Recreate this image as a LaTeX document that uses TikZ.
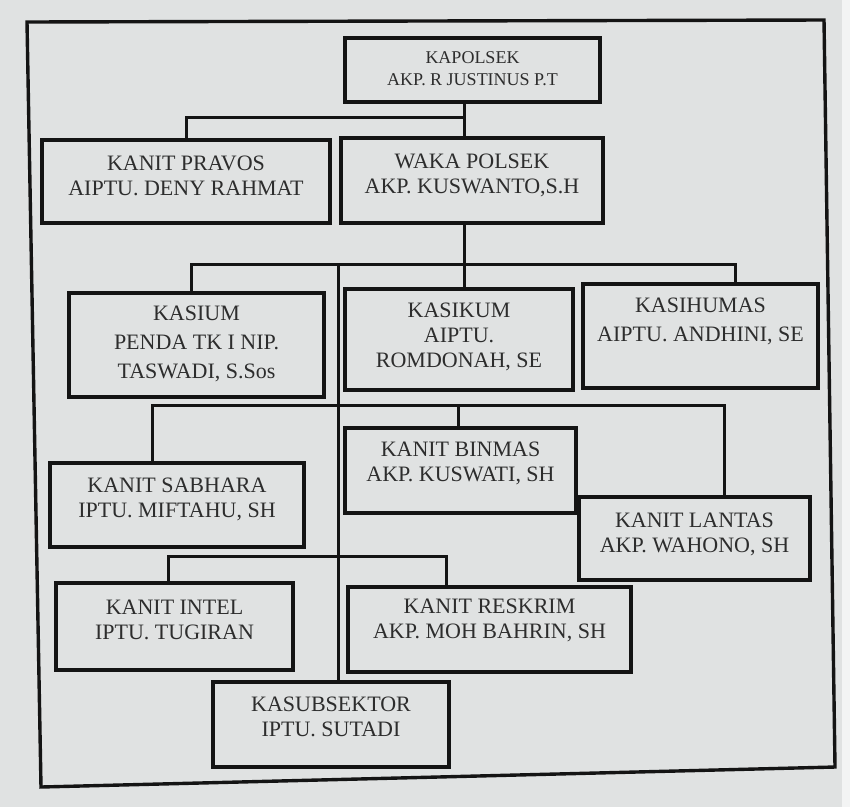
\documentclass[tikz,border=0pt]{standalone}
\usepackage{fontspec}
\setmainfont{Liberation Serif}
\definecolor{paper}{RGB}{224,226,226}
\definecolor{ink}{RGB}{20,20,20}
\definecolor{txtc}{RGB}{45,45,45}
\tikzset{
  orgbox/.style={draw=ink, line width=3.2pt, inner sep=0pt, outer sep=0pt},
  orgtxt/.style={text=txtc, align=center, inner sep=0pt, font=\fontsize{22}{25}\selectfont},
  conn/.style={draw=ink, line width=3pt, line cap=rect},
  frame/.style={draw=ink, line width=3.4pt, line join=miter}
}
% #1 extra text options, #2 name, #3 x1, #4 y1, #5 x2, #6 y2, #7 text shift, #8 text
\newcommand{\obox}[8][]{%
  \node[orgbox, minimum width={#5-#3}, minimum height={#6-#4}] (#2) at ({(#3+#5)/2},{(#4+#6)/2}) {};
  \node[orgtxt,#1] (#2-t) at ([yshift=#7pt]#2.center) {#8};}
\begin{document}
\begin{tikzpicture}[x=1pt,y=-1pt]
\fill[paper] (0,0) rectangle (850,807);
\fill[paper!40!white] (842,0) rectangle (850,807);
\useasboundingbox (0,0) rectangle (850,807);
% outer frame
\draw[frame] (27,22) -- (824,20) -- (835,767) -- (41,787) -- cycle;
% boxes
\obox[font=\fontsize{18}{22}\selectfont]{kapolsek}{345}{38}{600}{102}{1}{KAPOLSEK\\AKP. R JUSTINUS P.T}
\obox{pravos}{42}{140}{330}{223}{6}{KANIT PRAVOS\\AIPTU. DENY RAHMAT}
\obox{waka}{341}{138}{603}{223}{5.5}{WAKA POLSEK\\AKP. KUSWANTO,S.H}
\obox[font=\fontsize{22}{29}\selectfont]{kasium}{69}{293}{324}{397}{1}{KASIUM\\PENDA TK I NIP.\\TASWADI, S.Sos}
\obox{kasikum}{345}{289}{573}{390}{3}{KASIKUM\\AIPTU.\\ROMDONAH, SE}
\obox[font=\fontsize{22}{29}\selectfont]{kasihumas}{583}{284}{818}{388}{15}{KASIHUMAS\\AIPTU. ANDHINI, SE}
\obox{sabhara}{50}{463}{304}{547}{5.5}{KANIT SABHARA\\IPTU. MIFTAHU, SH}
\obox{binmas}{345}{428}{576}{513}{7.5}{KANIT BINMAS\\AKP. KUSWATI, SH}
\obox{lantas}{579}{497}{810}{580}{4.5}{KANIT LANTAS\\AKP. WAHONO, SH}
\obox{intel}{56}{583}{293}{670}{6.5}{KANIT INTEL\\IPTU. TUGIRAN}
\obox{reskrim}{348}{587}{631}{672}{9.5}{KANIT RESKRIM\\AKP. MOH BAHRIN, SH}
\obox{kasub}{213}{682}{449}{767}{7.5}{KASUBSEKTOR\\IPTU. SUTADI}
% junction coordinates
\coordinate (j1) at (464,117);
\coordinate (j2) at (464,264);
\coordinate (j3) at (458,405);
\coordinate (j4) at (300,556);
\coordinate (v) at (338,264);
% connectors
\draw[conn] (kapolsek.south -| j1) -- (waka.north -| j1);
\draw[conn] (j1) -| (pravos.north);
\draw[conn] (waka.south -| j2) -- (kasikum.north -| j2);
\draw[conn] ([xshift=-5.5pt]kasium.north) |- (j2) -| ([xshift=34.5pt]kasihumas.north);
\draw[conn] (v) -- (kasub.north -| v);
\draw[conn] ([xshift=-25pt]sabhara.north) |- (j3) -| ([xshift=29.5pt]lantas.north);
\draw[conn] (j3) -- (binmas.north -| j3);
\draw[conn] ([xshift=-6.5pt]intel.north) |- (j4) -| ([xshift=-43.5pt]reskrim.north);
\end{tikzpicture}
\end{document}
